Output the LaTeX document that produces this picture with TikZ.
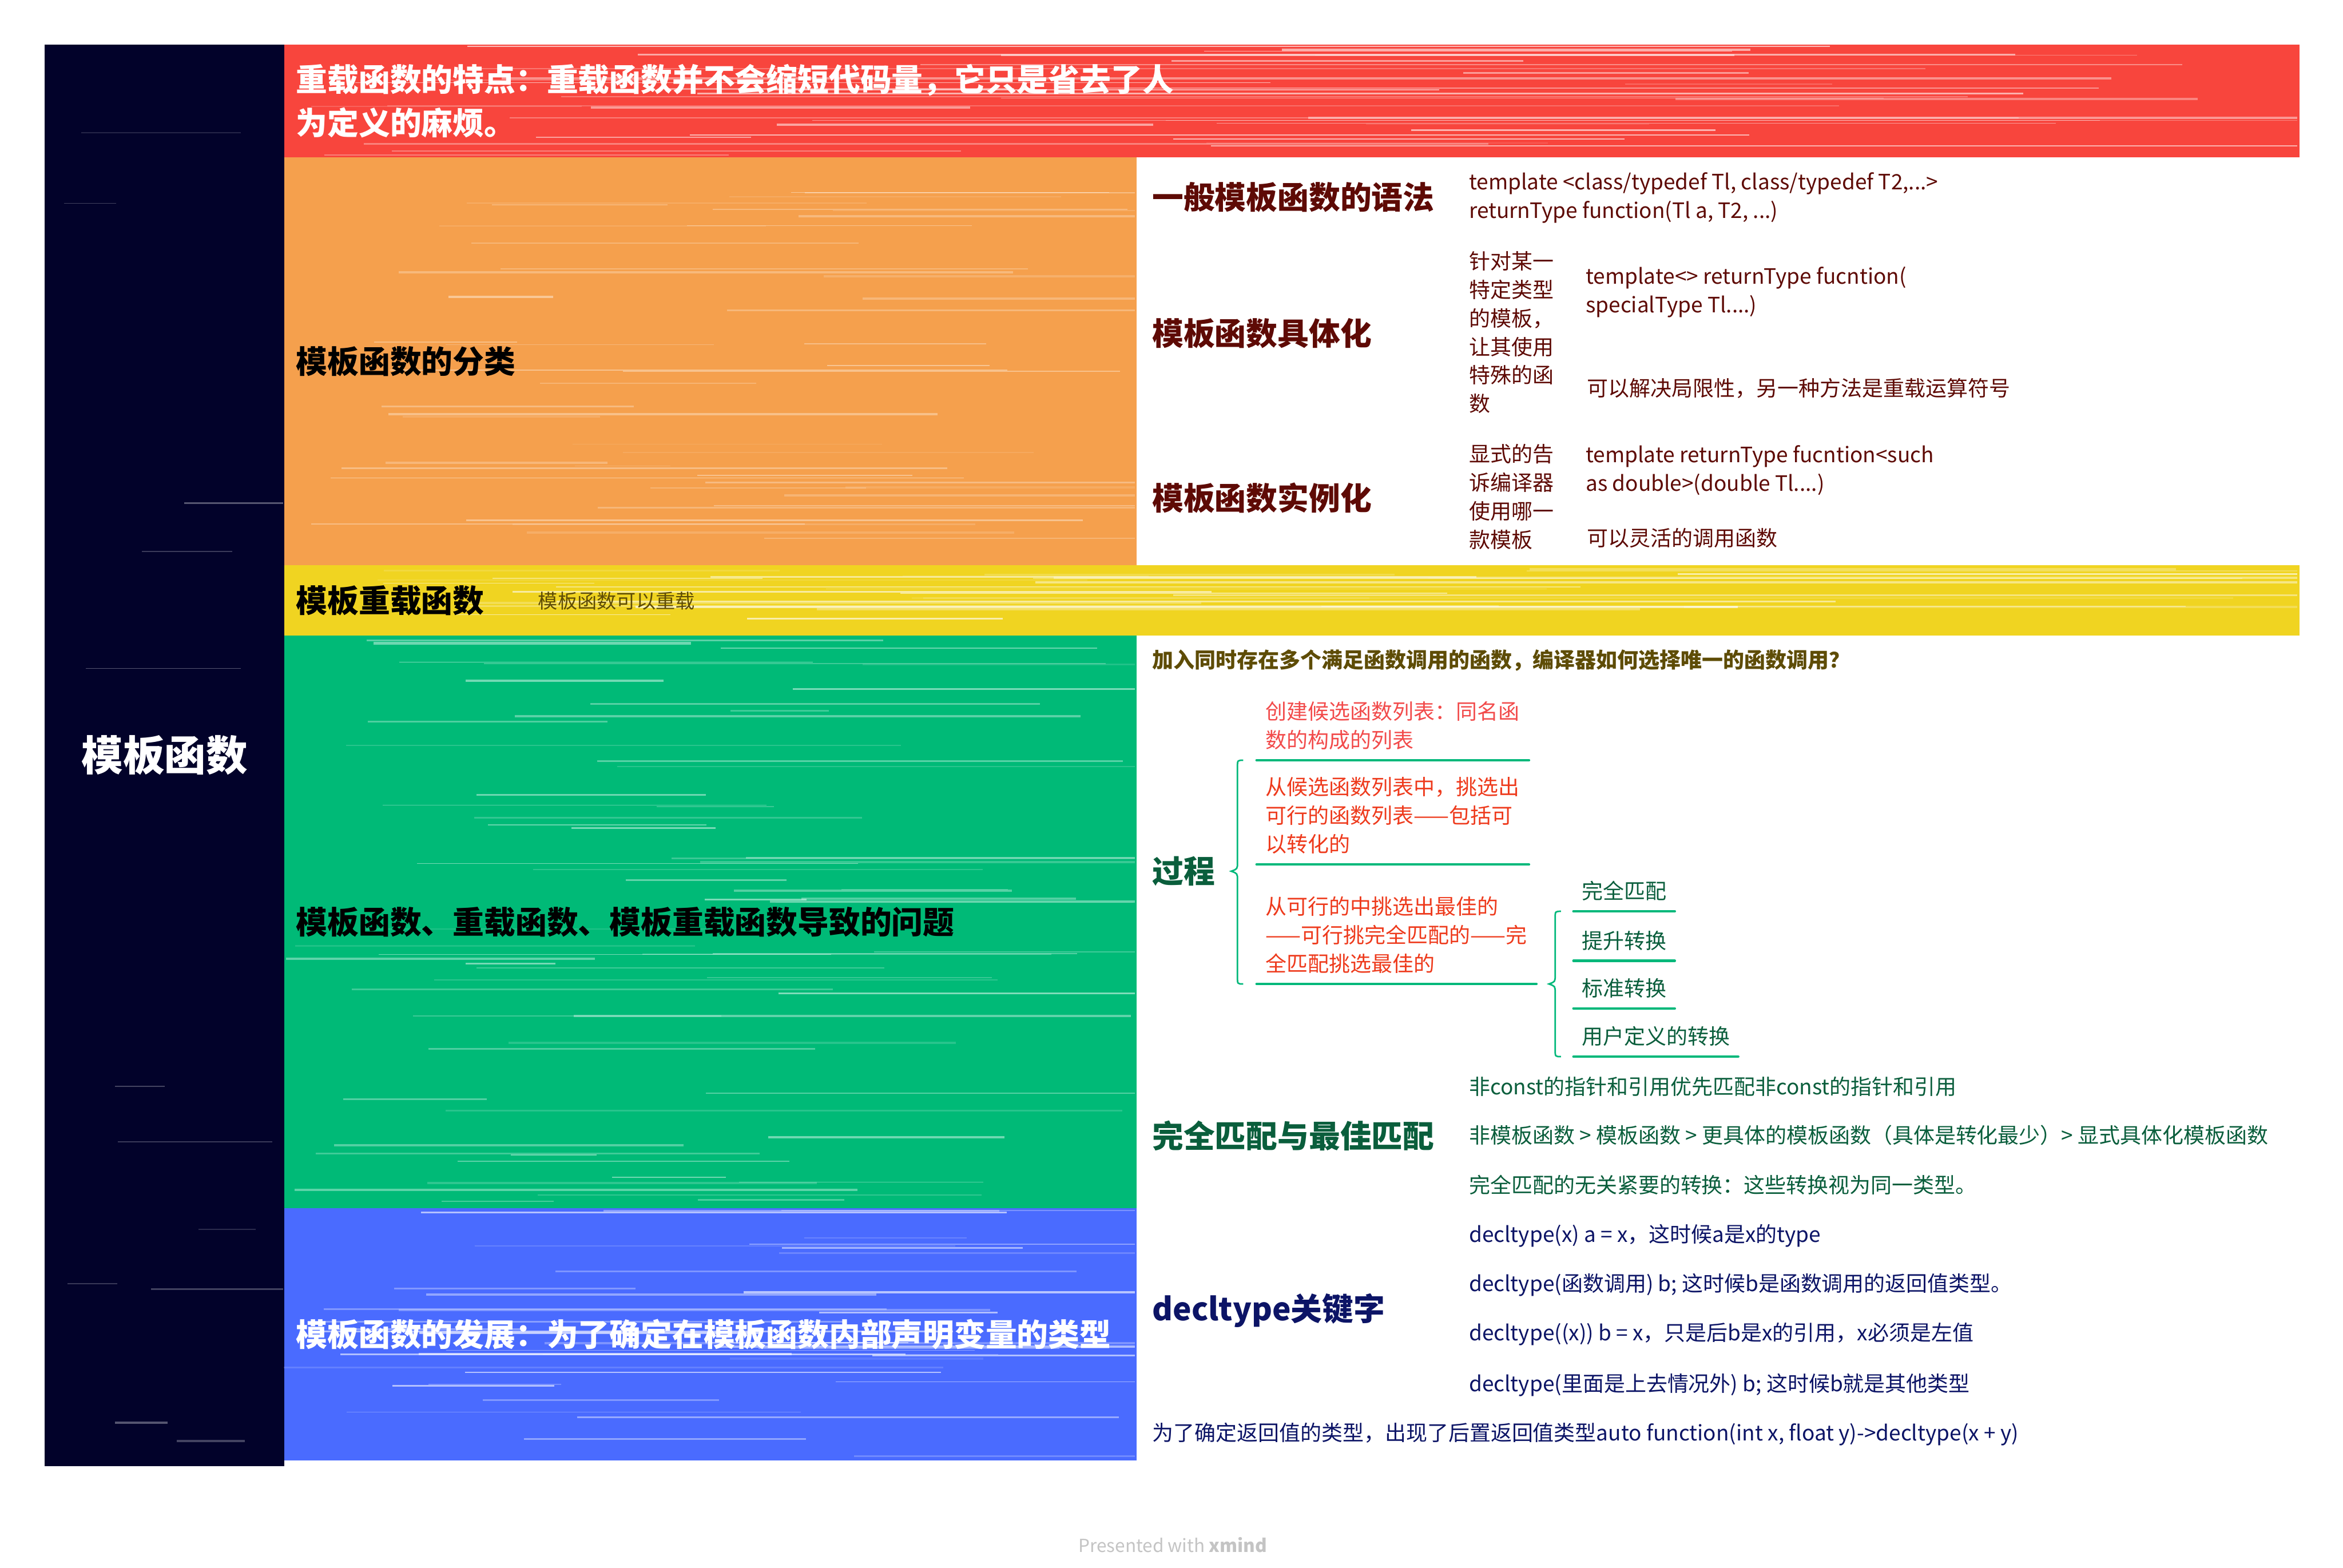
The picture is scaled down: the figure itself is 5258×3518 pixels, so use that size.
\documentclass[tikz,border=0pt]{standalone}
\usepackage{fontspec}
\setmainfont{Noto Sans CJK SC}
\usetikzlibrary{calc}
\definecolor{cRoot}{HTML}{02022A}
\definecolor{cRed}{HTML}{F8453D}
\definecolor{cOrange}{HTML}{F5A04D}
\definecolor{cYellow}{HTML}{F0D421}
\definecolor{cGreen}{HTML}{00BA77}
\definecolor{cBlue}{HTML}{4A6BFF}
\definecolor{tMaroon}{HTML}{5E0A05}
\definecolor{tOlive}{HTML}{5E4C06}
\definecolor{tGreen}{HTML}{0A5E3C}
\definecolor{tNavy}{HTML}{0C1466}
\definecolor{tRedA}{HTML}{F24B4B}
\definecolor{tRedB}{HTML}{EE3A1C}
\definecolor{lGreen}{HTML}{00B87A}
\definecolor{cFoot}{HTML}{C4C4C4}
\newcommand{\fsBig}{\fontsize{26.5}{32}\selectfont}
\newcommand{\fsHead}{\fontsize{20}{27.5}\selectfont}
\newcommand{\fsBody}{\fontsize{13.5}{18.2}\selectfont}
\newcommand{\fsSmall}{\fontsize{12.5}{16}\selectfont}
\newcommand{\streaks}[6]{% x1 x2 y1 y2 n maxopacity
  \foreach \k in {1,...,#5}{%
    \pgfmathsetmacro{\sy}{#3+4+rnd*(#4-#3-8)}%
    \pgfmathsetmacro{\sa}{#1+rnd*(#2-#1)*0.7}%
    \pgfmathsetmacro{\sb}{min(#2-2,\sa+(0.1+rnd*0.7)*(#2-#1))}%
    \pgfmathsetmacro{\so}{0.1+#6*rnd}%
    \pgfmathsetmacro{\sw}{0.3+1.2*rnd}%
    \draw[white,opacity=\so,line width=\sw pt] (\sa,\sy) -- (\sb,\sy);
  }}
\newcommand{\mybrace}[3]{% top, bottom, tip-y reference
  \draw[bracestyle] let \p1=(#1), \p2=(#2), \p3=(#3) in
    (\x1,\y1) .. controls (\x1-0.13cm,\y1) .. (\x1-0.13cm,\y1-0.15cm)
    -- (\x1-0.13cm,\y3+0.2cm) .. controls (\x1-0.13cm,\y3+0.05cm) .. (\x1-0.27cm,\y3)
    .. controls (\x1-0.13cm,\y3-0.05cm) .. (\x1-0.13cm,\y3-0.2cm)
    -- (\x1-0.13cm,\y2+0.15cm) .. controls (\x1-0.13cm,\y2) .. (\x1,\y2);}
\begin{document}
\begin{tikzpicture}[x=0.01cm,y=-0.01cm,
  band/.style={rectangle, draw=none, inner sep=0, anchor=north west},
  bandtext/.style={anchor=west, inner sep=0, font=\fsHead\bfseries, align=left},
  head/.style={anchor=west, inner sep=0, font=\fsHead\bfseries},
  body/.style={anchor=west, inner sep=0, font=\fsBody, align=left},
  child/.style={anchor=south west, inner xsep=0.2cm, inner ysep=0.23cm, font=\fsBody, align=left},
  uline/.style={lGreen, line width=1.6pt, line cap=round},
  bracestyle/.style={lGreen, line width=1pt}]
\pgfmathsetseed{7}
\useasboundingbox (0,0) rectangle (5258,3518);
\fill[white] (0,0) rectangle (5258,3518);
% bands
\node[band, fill=cRoot, minimum width=5.37cm, minimum height=31.87cm] (b-root) at (100,100) {};
\node[band, fill=cRed, minimum width=45.2cm, minimum height=2.52cm] (b-red) at (637,100) {};
\node[band, fill=cOrange, minimum width=19.12cm, minimum height=9.16cm] (b-org) at (637,352) {};
\node[band, fill=cYellow, minimum width=45.2cm, minimum height=1.57cm] (b-yel) at (637,1268) {};
\node[band, fill=cGreen, minimum width=19.12cm, minimum height=12.85cm] (b-grn) at (637,1425) {};
\node[band, fill=cBlue, minimum width=19.12cm, minimum height=5.66cm] (b-blu) at (637,2710) {};
% sketch streaks
\streaks{100}{637}{100}{3287}{12}{0.25}
\streaks{637}{5157}{100}{352}{40}{0.55}
\streaks{637}{2549}{352}{1268}{45}{0.35}
\streaks{637}{5157}{1268}{1425}{30}{0.55}
\streaks{637}{2549}{1425}{2710}{65}{0.4}
\streaks{637}{2549}{2710}{3276}{40}{0.55}
% band texts
\node[font=\fsBig\bfseries, white, inner sep=0] (t-root) at (b-root.center) {模板函数};
\node[bandtext, white] (t-red) at ([xshift=0.27cm]b-red.west) {重载函数的特点：重载函数并不会缩短代码量，它只是省去了人\\为定义的麻烦。};
\node[bandtext, black] (t-org) at ([xshift=0.27cm]b-org.west) {模板函数的分类};
\node[bandtext, black] (t-yel) at ([xshift=0.27cm]b-yel.west) {模板重载函数};
\node[body, tOlive, font=\fsSmall] (t-yel2) at (1207,1348) {模板函数可以重载};
\node[bandtext, black] (t-grn) at ([xshift=0.27cm]b-grn.west) {模板函数、重载函数、模板重载函数导致的问题};
\node[bandtext, white] (t-blu) at ([xshift=0.27cm]b-blu.west) {模板函数的发展：为了确定在模板函数内部声明变量的类型};
% orange section
\node[head, tMaroon] (h1) at (2585,443) {一般模板函数的语法};
\node[body, tMaroon] (h1a) at (3296,444) {template <class/typedef Tl, class/typedef T2,...>\\returnType function(Tl a, T2, ...)};
\node[head, tMaroon] (h2) at (2585,748) {模板函数具体化};
\node[body, tMaroon] (h2a) at (3296,746) {针对某一\\特定类型\\的模板，\\让其使用\\特殊的函\\数};
\node[body, tMaroon] (h2b) at (3558,656) {template<> returnType fucntion(\\specialType Tl....)};
\node[body, tMaroon] (h2c) at (3561,872) {可以解决局限性，另一种方法是重载运算符号};
\node[head, tMaroon] (h3) at (2585,1117) {模板函数实例化};
\node[body, tMaroon] (h3a) at (3296,1115) {显式的告\\诉编译器\\使用哪一\\款模板};
\node[body, tMaroon] (h3b) at (3558,1055) {template returnType fucntion<such\\as double>(double Tl....)};
\node[body, tMaroon] (h3c) at (3561,1207) {可以灵活的调用函数};
% green section
\node[body, tOlive, font=\fsBody\bfseries] (g0) at (2585,1482) {加入同时存在多个满足函数调用的函数，编译器如何选择唯一的函数调用？};
\node[head, tGreen] (p1) at (2585,1955) {过程};
\node[child, tRedA] (c1) at (2820,1706) {创建候选函数列表：同名函\\数的构成的列表};
\node[child, tRedB] (c2) at (2820,1940) {从候选函数列表中，挑选出\\可行的函数列表——包括可\\以转化的};
\node[child, tRedB] (c3) at (2820,2208) {从可行的中挑选出最佳的\\——可行挑完全匹配的——完\\全匹配挑选最佳的};
\foreach \n in {c1,c2,c3} \draw[uline] (\n.south west) -- (\n.south east);
\node[child, tGreen, inner xsep=0.18cm] (d1) at (3531,2045) {完全匹配};
\node[child, tGreen, inner xsep=0.18cm] (d2) at (3531,2156) {提升转换};
\node[child, tGreen, inner xsep=0.18cm] (d3) at (3531,2263) {标准转换};
\node[child, tGreen, inner xsep=0.18cm] (d4) at (3531,2371) {用户定义的转换};
\foreach \n in {d1,d2,d3,d4} \draw[uline] (\n.south west) -- (\n.south east);
\coordinate (br1t) at ([xshift=-0.3cm]c1.south west);
\coordinate (br1b) at ([xshift=-0.3cm]c3.south west);
\mybrace{br1t}{br1b}{p1.east}
\coordinate (br2t) at ([xshift=-0.28cm]d1.south west);
\coordinate (br2b) at ([xshift=-0.28cm]d4.south west);
\mybrace{br2t}{br2b}{c3.south east}
\node[head, tGreen] (m0) at (2585,2548) {完全匹配与最佳匹配};
\node[body, tGreen] (m1) at (3296,2438) {非const的指针和引用优先匹配非const的指针和引用};
\node[body, tGreen] (m2) at (3296,2548) {非模板函数 > 模板函数 > 更具体的模板函数（具体是转化最少）> 显式具体化模板函数};
\node[body, tGreen] (m3) at (3296,2659) {完全匹配的无关紧要的转换：这些转换视为同一类型。};
% blue section
\node[head, tNavy] (k0) at (2585,2941) {decltype关键字};
\node[body, tNavy] (k1) at (3296,2773) {decltype(x) a = x，这时候a是x的type};
\node[body, tNavy] (k2) at (3296,2884) {decltype(函数调用) b; 这时候b是函数调用的返回值类型。};
\node[body, tNavy] (k3) at (3296,2994) {decltype((x)) b = x，只是后b是x的引用，x必须是左值};
\node[body, tNavy] (k4) at (3296,3108) {decltype(里面是上去情况外) b; 这时候b就是其他类型};
\node[body, tNavy] (k5) at (2585,3219) {为了确定返回值的类型，出现了后置返回值类型auto function(int x, float y)->decltype(x + y)};
% footer
\node[font=\fontsize{11.5}{14}\selectfont, cFoot, inner sep=0] (foot) at (2632,3467) {Presented with \textbf{xmind}};
\end{tikzpicture}
\end{document}
